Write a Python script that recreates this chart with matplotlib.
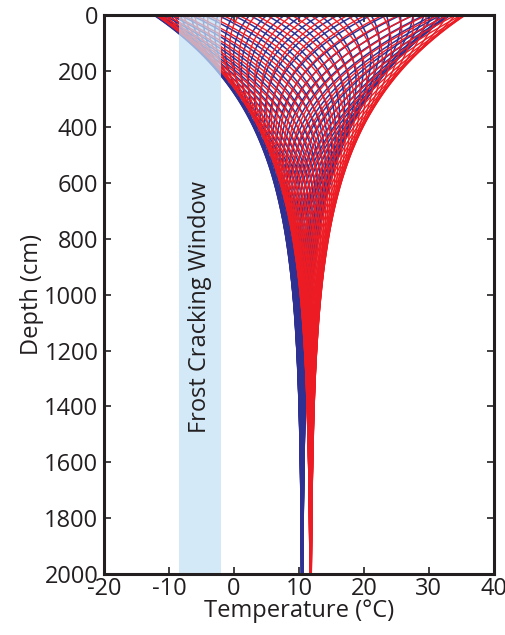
import numpy as np
import matplotlib
matplotlib.use("Agg")
from matplotlib import pyplot as plt

# model parameters (seasonal wave in the ground)
depth_cm = np.linspace(0.0, 2000.0, 500)
blue_mean_T = 10.5      # deg C, mean ground temperature of the blue set
blue_amp_T = 22.8       # deg C, surface amplitude of the blue set
blue_damp_cm = 360.0    # damping depth of the blue set
red_mean_T = 11.8
red_amp_T = 23.8
red_damp_cm = 370.0
n_profiles = 52         # profiles drawn per year for each set

frost_window = [-8.5, -2.0]
window_label = "Frost Cracking Window"
x_ticks = [-20, -10, 0, 10, 20, 30, 40]
y_ticks = [0, 200, 400, 600, 800, 1000, 1200, 1400, 1600, 1800, 2000]

plt.rcParams['font.family'] = ['Open Sans', 'DejaVu Sans']
frame_color = '#231f20'

fig = plt.figure(figsize=(5.06, 6.35), dpi=100)
ax = fig.add_axes([0.2055, 0.096, 0.7705, 0.88])


def profiles(mean_T, amp_T, damp_cm, n):
    phase = np.arange(n) / n * 2 * np.pi
    out = []
    for p in phase:
        out.append(mean_T + amp_T * np.exp(-depth_cm / damp_cm) * np.sin(p - depth_cm / damp_cm))
    return out


for T in profiles(blue_mean_T, blue_amp_T, blue_damp_cm, n_profiles):
    ax.plot(T, depth_cm, color='#2e3192', lw=1.1, zorder=2)
for T in profiles(red_mean_T, red_amp_T, red_damp_cm, n_profiles):
    ax.plot(T, depth_cm, color='#ed1c24', lw=1.0, zorder=3)

# the window sits on top of the curves, washing them out
ax.axvspan(frost_window[0], frost_window[1], color='#c4e1f5', alpha=0.72, lw=0, zorder=4)
ax.text(np.mean(frost_window), 1045, window_label, rotation=90, ha='center', va='center',
        fontsize=17, color=frame_color, zorder=5)

ax.set_xlim(-20, 40)
ax.set_ylim(2000, 0)
ax.set_xticks(x_ticks)
ax.set_yticks(y_ticks)
ax.set_xticklabels([str(v) for v in x_ticks])
ax.set_yticklabels([str(v) for v in y_ticks])
ax.tick_params(direction='in', length=5, width=1.2, color=frame_color,
               top=True, right=True, labelsize=17, labelcolor=frame_color)
ax.tick_params(axis='y', pad=4)
ax.tick_params(axis='x', pad=2)
for s in ax.spines.values():
    s.set_linewidth(2.2)
    s.set_color(frame_color)
    s.set_zorder(6)
ax.set_xlabel('Temperature (°C)', fontsize=17, color=frame_color, labelpad=-1)
ax.set_ylabel('Depth (cm)', fontsize=17, color=frame_color, labelpad=0)

fig.savefig('out.png', dpi=100)
